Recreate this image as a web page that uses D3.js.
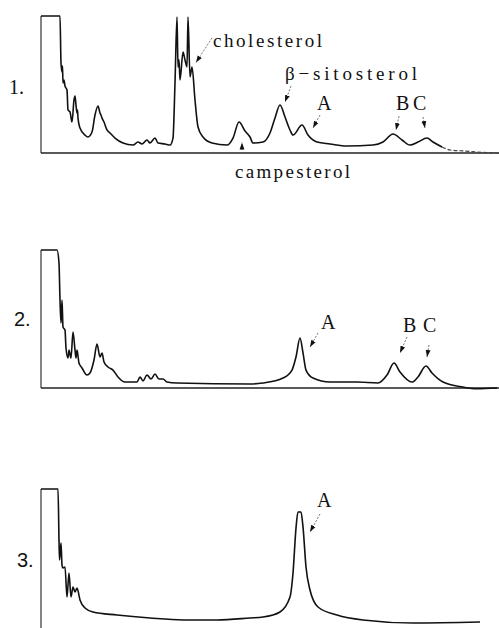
<!DOCTYPE html>
<html>
<head>
<meta charset="utf-8">
<script src="https://cdn.jsdelivr.net/npm/d3@7"></script>
<style>
  html, body { margin: 0; padding: 0; background: #fff; }
  svg { display: block; }
  .serif { font-family: "Liberation Serif", "Times New Roman", "DejaVu Serif", serif; }
  .sans { font-family: "Liberation Sans", Arial, "DejaVu Sans", sans-serif; }
</style>
</head>
<body>
<svg id="chart" width="499" height="628"></svg>
<script>
// ---------- DATA (retention time t, detector response in % of full scale) ----------
const panelLabels = ["1.", "2.", "3."];

const time1 = [0, 1.9, 2.0, 2.1, 2.15, 2.2, 2.3, 2.4, 2.6, 2.7, 2.9, 3.1, 3.3, 3.4, 3.5, 3.6, 3.65, 3.7, 3.9, 4.4, 4.7, 5.1, 5.4, 5.7, 5.9, 6.0, 6.1, 6.3, 6.6, 6.9, 7.4, 8.2, 9.2, 9.7, 10.1, 10.6, 10.9, 11.4, 11.7, 12.4, 12.9, 13.2, 13.4, 13.6, 13.7, 13.8, 13.9, 14.2, 14.4, 14.6, 14.7, 14.9, 15.1, 15.4, 15.7, 16.2, 17.1, 18.6, 19.2, 19.8, 20.4, 20.9, 21.2, 22.2, 22.9, 23.4, 23.9, 24.4, 24.9, 25.2, 26.1, 26.7, 27.6, 28.9, 30.6, 33.2, 34.2, 35.2, 36.1, 36.9, 37.7, 38.6, 39.2, 40.1, 40.9, 42.2, 44.6, 45.8];
const resp1 = [100, 100, 65.7, 59.1, 63.5, 51.1, 53.3, 48.9, 46.0, 31.4, 30.0, 22.6, 38.7, 41.6, 35.0, 29.2, 31.4, 25.5, 18.2, 13.1, 11.7, 15.3, 27.7, 34.3, 29.2, 27.7, 25.5, 22.6, 16.8, 14.6, 10.9, 7.3, 5.8, 8.0, 6.6, 9.5, 7.3, 10.9, 7.3, 6.6, 5.8, 10.9, 51.1, 99.3, 62.8, 68.0, 53.3, 73.7, 67.9, 62.8, 99.3, 55.5, 62.8, 38.7, 19.0, 11.7, 7.3, 5.8, 10.9, 22.6, 16.1, 11.7, 7.3, 8.0, 14.6, 25.5, 35.0, 26.3, 16.8, 13.1, 20.4, 13.1, 8.0, 6.6, 5.1, 5.8, 8.0, 13.9, 9.5, 5.8, 8.0, 10.9, 8.0, 4.4, 2.2, 1.5, 0.3, 0];

const time2 = [0, 1.6, 1.8, 1.9, 2.0, 2.1, 2.2, 2.4, 2.5, 2.7, 2.8, 3.0, 3.2, 3.4, 3.5, 3.6, 3.8, 4.1, 4.6, 4.9, 5.3, 5.6, 5.9, 6.1, 6.3, 6.7, 7.2, 7.7, 8.4, 9.6, 9.9, 10.2, 10.6, 11.0, 11.4, 11.8, 12.2, 12.6, 13.6, 20.9, 22.2, 24.2, 25.1, 25.5, 25.9, 26.2, 26.5, 27.2, 28.9, 31.6, 33.7, 34.6, 35.3, 35.9, 37.1, 37.7, 38.5, 39.1, 40.2, 42.2, 43.6, 45.6];
const resp2 = [100, 100, 90.6, 63.8, 47.1, 63.8, 44.2, 42.0, 29.0, 21.7, 27.5, 21.7, 40.6, 27.5, 21.7, 27.5, 18.1, 14.5, 9.4, 10.9, 20.3, 31.9, 22.5, 25.4, 18.8, 15.2, 13.0, 8.0, 4.3, 4.3, 8.0, 5.1, 9.4, 6.5, 10.1, 6.5, 6.5, 4.3, 3.6, 2.9, 3.6, 7.2, 13.0, 22.5, 36.2, 25.4, 13.0, 7.2, 4.3, 4.3, 3.6, 9.4, 18.1, 11.6, 4.3, 8.0, 15.9, 10.9, 4.3, 0.7, -0.5, 0];

const time3 = [0, 1.7, 1.8, 1.85, 2.0, 2.1, 2.2, 2.4, 2.6, 2.8, 3.0, 3.2, 3.4, 3.6, 3.9, 4.4, 5.2, 7.6, 10.9, 14.2, 17.6, 20.9, 22.2, 23.9, 24.9, 25.2, 25.5, 25.7, 26.0, 26.2, 26.5, 26.9, 27.7, 29.6, 32.2, 37.2, 43.9];
const resp3 = [100, 100, 63.0, 48.6, 60.9, 44.9, 42.8, 43.5, 21.7, 39.1, 21.7, 29.0, 25.4, 28.3, 19.6, 13.8, 10.9, 8.7, 6.5, 5.1, 5.1, 6.5, 7.2, 10.9, 21.7, 39.1, 71.7, 83.3, 83.3, 72.5, 43.5, 26.8, 14.5, 8.7, 5.1, 2.9, 3.6];

// peak annotations: panel index, label, peak time
const peakPanel = [0, 0, 0, 0, 0, 0, 1, 1, 1, 2];
const peakNames = ["cholesterol", "β−sitosterol", "A", "B", "C", "campesterol", "A", "B", "C", "A"];
const peakTimes = [15.4, 24.4, 27.2, 35.5, 38.4, 20.1, 26.9, 35.9, 38.6, 26.9];

// ---------- LAYOUT ----------
const svg = d3.select("#chart");
const W = 499;
const panels = [
  { top: 16, base: 153, xAxis: true, label: { x: 9, y: 94, cls: "serif" } },
  { top: 250, base: 388, xAxis: true, label: { x: 14, y: 326, cls: "sans" } },
  { top: 489, base: 627, xAxis: false, label: { x: 17, y: 567, cls: "sans" } }
];
const series = [
  d3.zip(time1, resp1).map(([t, r]) => ({ t, r })),
  d3.zip(time2, resp2).map(([t, r]) => ({ t, r })),
  d3.zip(time3, resp3).map(([t, r]) => ({ t, r }))
];

const x = d3.scaleLinear().domain([0, 45.8]).range([41, 499]);

// annotation layout (text anchor and arrow, in data units of the panel)
const annLayout = [
  { tx: 17.2, ty: 77.4, w: 109, a0: [17.1, 84], a1: [15.5, 66] },            // cholesterol
  { tx: 24.4, ty: 53.3, w: 132, a0: [25.0, 48.9], a1: [24.4, 37.2] },        // β-sitosterol
  { tx: 27.6, ty: 31.4, w: 13, a0: [27.9, 27.7], a1: [27.2, 18.2] },         // A
  { tx: 35.5, ty: 31.4, w: 11, a0: [35.8, 27.0], a1: [35.5, 16.8] },         // B
  { tx: 37.2, ty: 31.4, w: 14, a0: [38.2, 26.3], a1: [38.4, 18.2] },         // C
  { tx: 19.4, ty: -18.2, w: 115, a0: [20.1, 2.2], a1: [20.1, 7.6] },         // campesterol
  { tx: 28.0, ty: 42.8, w: 12, a0: [27.7, 39.9], a1: [26.9, 29.7] },         // A (2)
  { tx: 36.2, ty: 40.6, w: 12, a0: [36.6, 37.0], a1: [35.9, 25.4] },         // B (2)
  { tx: 38.2, ty: 40.6, w: 14, a0: [38.8, 31.2], a1: [38.6, 22.5] },         // C (2)
  { tx: 27.6, ty: 87.0, w: 12, a0: [27.9, 81.9], a1: [26.9, 68.8] }          // A (3)
];

const defs = svg.append("defs");
defs.append("marker")
  .attr("id", "head").attr("viewBox", "0 0 10 10")
  .attr("refX", 10).attr("refY", 5)
  .attr("markerWidth", 7).attr("markerHeight", 7)
  .attr("markerUnits", "userSpaceOnUse")
  .attr("orient", "auto")
  .append("path").attr("d", "M0,1.5 L10,5 L0,8.5 Z").attr("fill", "#111");

panels.forEach((p, i) => {
  const y = d3.scaleLinear().domain([0, 100]).range([p.base, p.top]);
  const g = svg.append("g");

  // y axis (left frame line)
  g.append("line")
    .attr("x1", x(0)).attr("x2", x(0))
    .attr("y1", y(100)).attr("y2", p.xAxis ? y(0) : 628)
    .attr("stroke", "#333").attr("stroke-width", 1.2);

  // x axis
  if (p.xAxis) {
    g.append("line")
      .attr("x1", x(0)).attr("x2", W)
      .attr("y1", y(0)).attr("y2", y(0))
      .attr("stroke", "#222").attr("stroke-width", 1.4);
  }

  const line = d3.line().x(d => x(d.t)).y(d => y(d.r)).curve(d3.curveMonotoneX);
  const data = series[i];
  const main = i === 0 ? data.filter(d => d.t <= 40.1) : data;
  g.append("path").datum(main)
    .attr("d", line).attr("fill", "none")
    .attr("stroke", "#111").attr("stroke-width", 1.6).attr("stroke-linejoin", "round");
  if (i === 0) {
    g.append("path").datum(data.filter(d => d.t >= 40.1))
      .attr("d", line).attr("fill", "none")
      .attr("stroke", "#444").attr("stroke-width", 1.2).attr("stroke-dasharray", "4,2");
  }

  // panel label
  g.append("text")
    .attr("class", p.label.cls)
    .attr("x", p.label.x).attr("y", p.label.y)
    .attr("font-size", 20).attr("fill", "#111")
    .text(panelLabels[i]);

  // annotations
  peakNames.forEach((name, k) => {
    if (peakPanel[k] !== i) return;
    const a = annLayout[k];
    const txt = g.append("text")
      .attr("class", "serif")
      .attr("x", x(a.tx)).attr("y", y(a.ty))
      .attr("font-size", name.length > 1 ? 19 : 20).attr("fill", "#111")
      .text(name);
    if (name.length > 1) txt.attr("textLength", a.w).attr("lengthAdjust", "spacing");
    g.append("line")
      .attr("x1", x(a.a0[0])).attr("y1", y(a.a0[1]))
      .attr("x2", x(a.a1[0])).attr("y2", y(a.a1[1]))
      .attr("stroke", "#666").attr("stroke-width", 0.9).attr("stroke-dasharray", "2,1.5")
      .attr("marker-end", "url(#head)");
  });
});
</script>
</body>
</html>
